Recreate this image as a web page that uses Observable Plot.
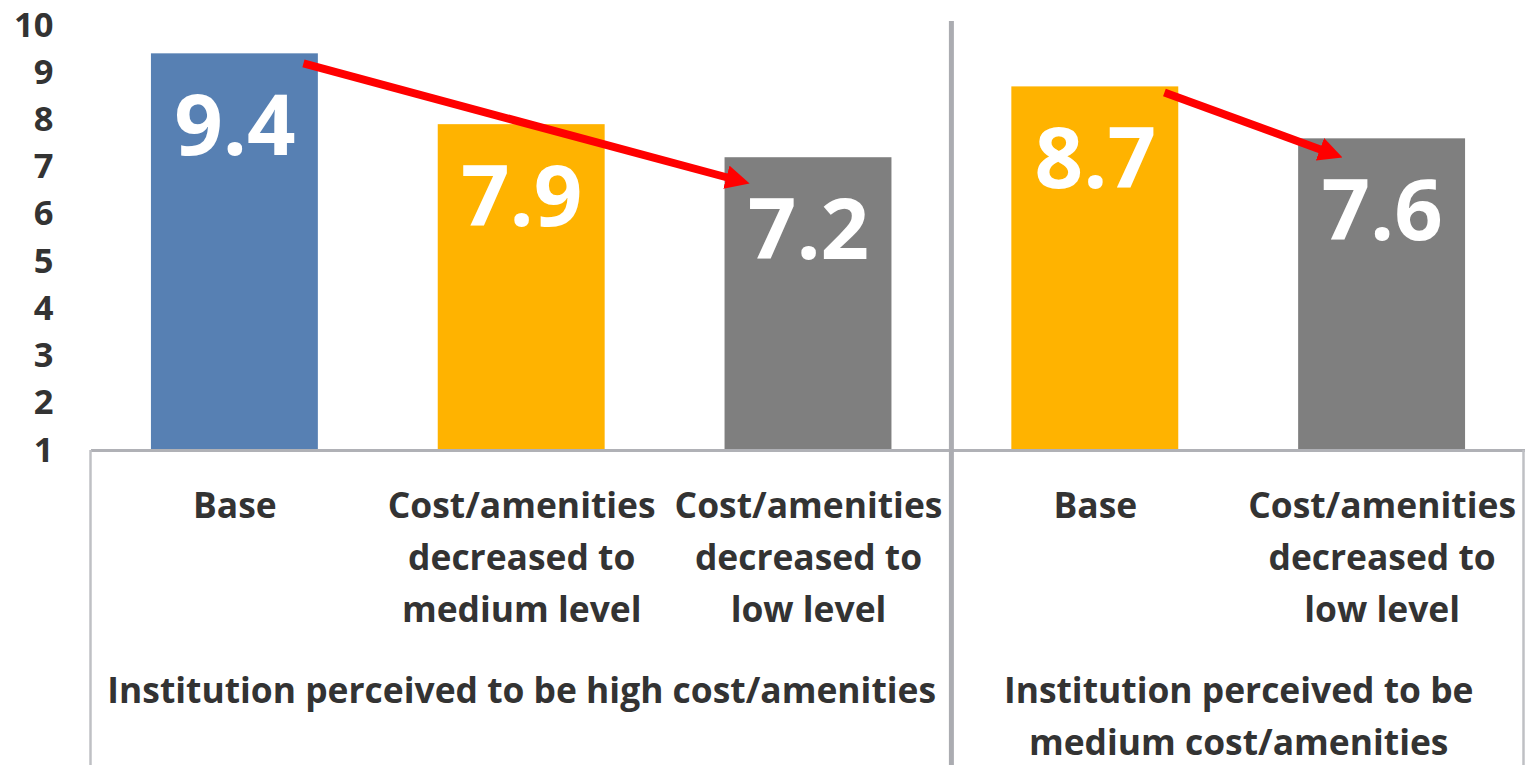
<!DOCTYPE html>
<html><head><meta charset="utf-8">
<script src="https://cdn.jsdelivr.net/npm/d3@7"></script>
<script src="https://cdn.jsdelivr.net/npm/@observablehq/plot@0.6"></script>
<style>body{margin:0;background:#fff;overflow:hidden}</style>
</head><body><div id="chart"></div>
<script>
// ---- data ----
const categories = ["Base", "Cost/amenities\ndecreased to\nmedium level", "Cost/amenities\ndecreased to\nlow level", "Base", "Cost/amenities\ndecreased to\nlow level"];
const values = [9.4, 7.9, 7.2, 8.7, 7.6];
const barColors = ["#5780b3", "#ffb300", "#7f7f7f", "#ffb300", "#7f7f7f"];
const groupLabels = ["Institution perceived to be high cost/amenities", "Institution perceived to be\nmedium cost/amenities"];
const groupFirst = [0, 3];
const groupLast = [2, 4];
const yTicks = [1, 2, 3, 4, 5, 6, 7, 8, 9, 10];
// annotation arrows (category index, value)
const arrowFromX = [0.239, 3.241];
const arrowFromY = [9.196, 8.581];
const arrowToX = [1.730, 3.799];
const arrowToY = [6.76, 7.343];

// ---- tables ----
const rows = values.map((v, i) => ({i, label: categories[i], value: v}));
const groups = groupLabels.map((g, k) => ({label: g, x: (groupFirst[k] + groupLast[k]) / 2}));
const arrows = arrowFromX.map((_, k) => ({x1: arrowFromX[k], y1: arrowFromY[k], x2: arrowToX[k], y2: arrowToY[k]}));

const bw = 0.582;
const fs = 35.4;
const lh = 52 / fs;

const plot = Plot.plot({
  width: 1525, height: 765,
  marginLeft: 91, marginRight: 0, marginTop: 25, marginBottom: 315,
  style: {fontFamily: "'Open Sans'", color: "#333", background: "white", overflow: "visible"},
  x: {domain: [-0.5, 4.5], axis: null},
  y: {domain: [1, 10], axis: null},
  color: {type: "ordinal", domain: d3.range(values.length), range: barColors},
  marks: [
    Plot.rectY(rows, {x1: d => d.i - bw / 2, x2: d => d.i + bw / 2, y1: 1, y2: "value", fill: "i"}),
    Plot.ruleY([1], {stroke: "#b0b1b6", strokeWidth: 3}),
    Plot.axisY({ticks: yTicks, tickSize: 0, tickPadding: 38, fontSize: 34.5, fontWeight: "bold", tickFormat: d => String(d), fill: "#333"}),
    Plot.text(rows, {x: "i", y: "value", dy: 74, text: d => d.value.toFixed(1), fill: "white", fontSize: 85, fontWeight: "bold", lineAnchor: "middle"}),
    Plot.text(rows, {x: "i", y: 1, dy: 31, text: "label", lineAnchor: "top", lineHeight: lh, fontSize: fs, fontWeight: "bold", fill: "#333"}),
    Plot.text(groups, {x: "x", y: 1, dy: 216, text: "label", lineAnchor: "top", lineHeight: lh, fontSize: fs, fontWeight: "bold", fill: "#333"}),
    Plot.link(arrows, {x1: "x1", y1: "y1", x2: "x2", y2: "y2", stroke: "#ff0000", strokeWidth: 8})
  ]
});

// structural lines & arrow heads, positioned with the plot's own scales
const svg = d3.select(plot);
const xs = plot.scale("x"), ys = plot.scale("y");
const yBase = ys.apply(1);
const H = 765;
const sepX = (groupLast[0] + groupFirst[1]) / 2;
const g = svg.append("g");
g.append("line").attr("x1", xs.apply(-0.5) - 0.5).attr("x2", xs.apply(-0.5) - 0.5).attr("y1", yBase).attr("y2", H)
  .attr("stroke", "#bfc0c4").attr("stroke-width", 2.5);
g.append("line").attr("x1", xs.apply(4.5) - 1.5).attr("x2", xs.apply(4.5) - 1.5).attr("y1", yBase).attr("y2", H)
  .attr("stroke", "#bfc0c4").attr("stroke-width", 2.5);
g.append("line").attr("x1", xs.apply(sepX)).attr("x2", xs.apply(sepX)).attr("y1", ys.apply(10.085)).attr("y2", H)
  .attr("stroke", "#abacb1").attr("stroke-width", 5);

const defs = svg.append("defs");
defs.append("marker").attr("id", "redhead").attr("viewBox", "0 0 3 3")
  .attr("markerWidth", 3).attr("markerHeight", 3).attr("refX", 0.6).attr("refY", 1.5).attr("orient", "auto")
  .append("path").attr("d", "M0,0L3,1.5L0,3Z").attr("fill", "#ff0000");
svg.selectAll('g[aria-label="link"] path').attr("marker-end", "url(#redhead)");

document.getElementById("chart").appendChild(plot);
</script>
</body></html>
